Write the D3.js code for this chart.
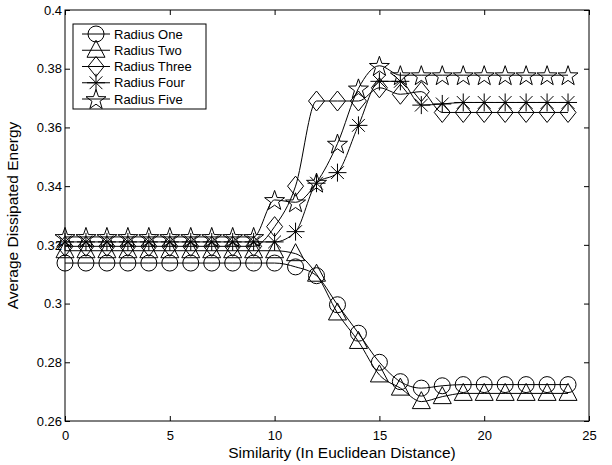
<!DOCTYPE html>
<html>
<head>
<meta charset="utf-8">
<script src="https://cdn.jsdelivr.net/npm/d3@7"></script>
<style>
  body { margin: 0; background: #fff; }
  svg { display: block; font-family: "Liberation Sans", Arial, sans-serif; }
</style>
</head>
<body>
<div id="container"></div>
<script>
// x values (similarity) 0..24
var similarity = [0,1,2,3,4,5,6,7,8,9,10,11,12,13,14,15,16,17,18,19,20,21,22,23,24];

// average dissipated energy
var radiusOne   = [0.3138,0.3138,0.3138,0.3138,0.3138,0.3138,0.3138,0.3138,0.3138,0.3138,0.3138,0.3125,0.3095,0.2996,0.2899,0.2800,0.2734,0.2712,0.2720,0.2724,0.2724,0.2724,0.2724,0.2724,0.2724];
var radiusTwo   = [0.3180,0.3180,0.3180,0.3180,0.3180,0.3180,0.3180,0.3180,0.3180,0.3180,0.3180,0.3170,0.3100,0.2968,0.2871,0.2757,0.2712,0.2666,0.2683,0.2694,0.2694,0.2694,0.2694,0.2694,0.2694];
var radiusThree = [0.3195,0.3195,0.3195,0.3195,0.3195,0.3195,0.3195,0.3195,0.3195,0.3195,0.3262,0.3400,0.3690,0.3690,0.3690,0.3735,0.3713,0.3722,0.3651,0.3651,0.3651,0.3651,0.3651,0.3651,0.3651];
var radiusFour  = [0.3210,0.3210,0.3210,0.3210,0.3210,0.3210,0.3210,0.3210,0.3210,0.3210,0.3210,0.3245,0.3410,0.3446,0.3607,0.3757,0.3757,0.3676,0.3680,0.3685,0.3685,0.3685,0.3685,0.3685,0.3685];
var radiusFive  = [0.3227,0.3227,0.3227,0.3227,0.3227,0.3227,0.3227,0.3227,0.3227,0.3227,0.3353,0.3345,0.3412,0.3545,0.3733,0.3810,0.3778,0.3778,0.3778,0.3778,0.3778,0.3778,0.3778,0.3778,0.3778];

var seriesNames = ["Radius One","Radius Two","Radius Three","Radius Four","Radius Five"];
var xTicks = [0,5,10,15,20,25];
var yTicks = [0.26,0.28,0.30,0.32,0.34,0.36,0.38,0.40];

var W = 612, H = 465;
// plot box edges (don't call it "top", window.top is read only)
var pLeft = 65, pRight = 589, pTop = 10, pBottom = 421;

var svg = d3.select("#container").append("svg")
    .attr("width", W).attr("height", H);

var x = d3.scaleLinear().domain([0, 25]).range([pLeft, pRight]);
var y = d3.scaleLinear().domain([0.26, 0.40]).range([pBottom, pTop]);

// marker shapes, all drawn around 0,0
var markers = {
  circle: function(){ return "M8,0A8,8 0 1,1 -8,0A8,8 0 1,1 8,0Z"; },
  triangle: function(){ return "M0,-10L9,7L-9,7Z"; },
  diamond: function(){ return "M0,-10L8,0L0,10L-8,0Z"; },
  asterisk: function(){
    var r = 9, d = 6.4;
    return "M" + -r + ",0H" + r + "M0," + -r + "V" + r +
           "M" + -d + "," + -d + "L" + d + "," + d +
           "M" + -d + "," + d + "L" + d + "," + -d;
  },
  star: function(){
    var pts = [];
    for (var i = 0; i < 10; i++) {
      var rr = (i % 2 === 0) ? 10.5 : 4.2;
      var a = -Math.PI / 2 + i * Math.PI / 5;
      pts.push([rr * Math.cos(a), rr * Math.sin(a) + 1]);
    }
    return "M" + pts.map(function(p){ return p[0].toFixed(2) + "," + p[1].toFixed(2); }).join("L") + "Z";
  }
};
var markerKinds = ["circle","triangle","diamond","asterisk","star"];
var allSeries = [radiusOne, radiusTwo, radiusThree, radiusFour, radiusFive];

// axes - matlab style ticks pointing inward on all four sides
var tickLen = 5;
var gx = svg.append("g").attr("transform", "translate(0," + pBottom + ")")
    .call(d3.axisBottom(x).tickValues(xTicks).tickSize(-tickLen).tickPadding(10).tickFormat(d3.format("d")));
var gxt = svg.append("g").attr("transform", "translate(0," + pTop + ")")
    .call(d3.axisTop(x).tickValues(xTicks).tickSize(-tickLen).tickFormat(""));
var gy = svg.append("g").attr("transform", "translate(" + pLeft + ",0)")
    .call(d3.axisLeft(y).tickValues(yTicks).tickSize(-tickLen).tickPadding(3).tickFormat(function(d){ return String(+d.toFixed(2)); }));
var gyr = svg.append("g").attr("transform", "translate(" + pRight + ",0)")
    .call(d3.axisRight(y).tickValues(yTicks).tickSize(-tickLen).tickFormat(""));

[gx, gxt, gy, gyr].forEach(function(g){
  g.select(".domain").remove();
  g.selectAll("line").attr("stroke", "#000");
  g.selectAll("text").attr("fill", "#000").style("font-size", "13px")
    .style("font-family", "'Liberation Sans', Arial, sans-serif");
});

svg.append("rect")
    .attr("x", pLeft).attr("y", pTop)
    .attr("width", pRight - pLeft).attr("height", pBottom - pTop)
    .attr("fill", "none").attr("stroke", "#000").attr("stroke-width", 1);

// the lines
var line = d3.line()
    .x(function(d, i){ return x(similarity[i]); })
    .y(function(d){ return y(d); })
    .curve(d3.curveMonotoneX);

allSeries.forEach(function(vals, k){
  var g = svg.append("g");
  g.append("path").attr("d", line(vals))
    .attr("fill", "none").attr("stroke", "#000").attr("stroke-width", 1);
  g.selectAll("path.m").data(vals).enter().append("path")
    .attr("class", "m")
    .attr("d", markers[markerKinds[k]]())
    .attr("transform", function(d, i){ return "translate(" + x(similarity[i]) + "," + y(d) + ")"; })
    .attr("fill", "none").attr("stroke", "#000").attr("stroke-width", 1);
});

// axis labels
svg.append("text")
    .attr("x", 342).attr("y", 458)
    .attr("text-anchor", "middle").style("font-size", "15.5px")
    .text("Similarity (In Euclidean Distance)");

svg.append("text")
    .attr("transform", "translate(18," + ((pTop + pBottom) / 2) + ") rotate(-90)")
    .attr("text-anchor", "middle").style("font-size", "15.5px")
    .text("Average Dissipated Energy");

// legend box
var lg = svg.append("g");
lg.append("rect")
    .attr("x", 73).attr("y", 24).attr("width", 133).attr("height", 85)
    .attr("fill", "#fff").attr("stroke", "#000").attr("stroke-width", 1);
var rowY = d3.scalePoint().domain(seriesNames).range([34, 99]);
seriesNames.forEach(function(name, k){
  var cy = rowY(name);
  lg.append("line").attr("x1", 82).attr("x2", 110).attr("y1", cy).attr("y2", cy)
    .attr("stroke", "#000");
  lg.append("path").attr("d", markers[markerKinds[k]]())
    .attr("transform", "translate(96," + cy + ")")
    .attr("fill", "none").attr("stroke", "#000");
  lg.append("text").attr("x", 114).attr("y", cy + 4.5)
    .style("font-size", "13px").text(name);
});
</script>
</body>
</html>
